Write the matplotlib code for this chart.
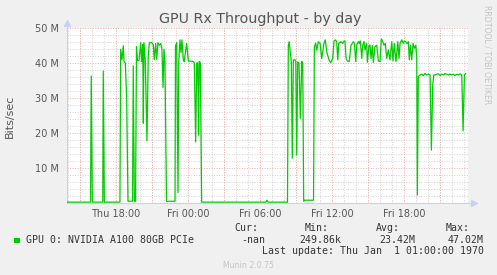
import matplotlib
matplotlib.use("Agg")
import matplotlib.pyplot as plt
from matplotlib.ticker import MultipleLocator, FixedLocator

# hours since Thu 00:00, Rx throughput in Mbit/s
hours = [13.92, 15.88, 15.94, 16.03, 16.90, 16.94, 17.03, 18.33, 18.39, 18.50,
         18.61, 18.67, 18.78, 18.89, 19.00, 19.38, 19.44, 19.53, 19.63, 19.71,
         19.79, 19.92, 20.06, 20.14, 20.23, 20.28, 20.33, 20.44, 20.58, 20.69,
         20.78, 20.98, 21.11, 21.19, 21.31, 21.39, 21.50, 21.61, 21.73, 21.83,
         21.92, 22.00, 22.08, 22.21, 22.92, 22.96, 23.06, 23.17, 23.23, 23.33,
         23.42, 23.50, 23.61, 23.69, 23.89, 24.03, 24.44, 24.53, 24.64, 24.73,
         24.81, 24.88, 24.94, 25.03, 25.14, 30.50, 30.58, 30.67, 32.29, 32.36,
         32.44, 32.50, 32.61, 32.69, 32.78, 32.92, 32.98, 33.06, 33.14, 33.25,
         33.36, 33.48, 33.56, 33.64, 33.71, 34.46, 34.53, 34.64, 34.73, 34.86,
         35.00, 35.14, 35.33, 35.44, 35.56, 35.75, 35.89, 36.06, 36.17, 36.28,
         36.39, 36.48, 36.56, 36.73, 36.89, 37.00, 37.08, 37.17, 37.28, 37.44,
         37.58, 37.69, 37.78, 37.86, 37.98, 38.06, 38.19, 38.28, 38.36, 38.48,
         38.56, 38.67, 38.75, 38.89, 38.94, 39.08, 39.17, 39.25, 39.36, 39.44,
         39.58, 39.73, 39.86, 40.00, 40.11, 40.23, 40.33, 40.44, 40.56, 40.69,
         40.83, 40.98, 41.08, 41.19, 41.33, 41.48, 41.58, 41.67, 41.81, 41.94,
         42.03, 42.14, 42.25, 42.36, 42.44, 42.53, 42.64, 42.75, 42.86, 42.98,
         43.06, 43.11, 43.19, 43.33, 43.48, 43.61, 43.75, 43.89, 44.03, 44.17,
         44.28, 44.39, 44.48, 44.58, 44.73, 44.86, 45.00, 45.14, 45.28, 45.42,
         45.56, 45.69, 45.83, 45.98, 46.11, 46.25, 46.39, 46.53, 46.67, 46.81,
         46.92, 47.03, 47.14]
mbits = [0.25, 0.25, 36.3, 0.25, 0.25, 37.7, 0.25, 0.25, 43.9, 41.0,
         44.9, 40.4, 40.0, 30.0, 0.5, 0.5, 39.2, 0.5, 0.5, 44.7,
         40.7, 40.7, 45.8, 40.4, 45.3, 22.8, 45.8, 40.8, 17.8, 42.0,
         45.8, 45.8, 45.3, 41.0, 45.6, 41.0, 45.8, 45.1, 45.6, 43.9,
         33.0, 43.9, 40.5, 0.5, 0.5, 44.9, 45.8, 3.0, 40.4, 46.6,
         43.0, 46.6, 40.9, 40.4, 45.6, 40.6, 40.4, 40.0, 17.5, 40.0,
         40.0, 19.4, 40.4, 40.0, 0.25, 0.25, 0.8, 0.25, 0.25, 45.1,
         46.1, 43.6, 40.5, 12.8, 40.9, 40.9, 40.5, 13.7, 40.3, 40.0,
         24.2, 40.5, 40.0, 0.5, 0.8, 0.8, 44.6, 45.7, 43.6, 46.1,
         45.6, 41.3, 45.6, 46.6, 43.2, 40.9, 40.1, 41.3, 46.3, 46.6,
         46.1, 40.9, 45.6, 46.1, 45.6, 46.3, 46.3, 41.3, 40.6, 40.4,
         45.1, 45.6, 46.1, 45.6, 40.4, 45.1, 46.1, 45.6, 46.3, 41.3,
         45.1, 46.1, 43.7, 45.6, 40.2, 45.0, 45.1, 41.3, 45.0, 40.2,
         44.7, 45.1, 40.6, 40.4, 46.9, 46.1, 45.1, 45.6, 41.3, 43.7,
         40.9, 46.1, 40.6, 45.6, 40.4, 46.1, 41.3, 45.6, 46.6, 45.6,
         46.3, 46.1, 45.6, 46.1, 40.9, 45.1, 40.9, 45.6, 44.2, 45.1,
         41.3, 2.3, 36.1, 36.6, 36.8, 36.4, 37.0, 36.6, 36.8, 36.6,
         15.1, 33.7, 36.6, 36.6, 36.8, 36.9, 36.4, 36.8, 36.6, 37.0,
         36.8, 36.6, 36.8, 36.6, 36.8, 36.4, 36.8, 36.6, 36.9, 36.6,
         20.6, 36.6, 37.0]

tick_hours = [18, 24, 30, 36, 42]
tick_labels = ["Thu 18:00", "Fri 00:00", "Fri 06:00", "Fri 12:00", "Fri 18:00"]
y_ticks = [10, 20, 30, 40, 50]
y_labels = ["10 M", "20 M", "30 M", "40 M", "50 M"]

series_name = "GPU 0: NVIDIA A100 80GB PCIe"
cur, vmin, avg, vmax = "-nan", "249.86k", "23.42M", "47.02M"

W, H = 497, 275
fig = plt.figure(figsize=(W / 100, H / 100), dpi=100, facecolor="#f0f0f0")
ax = fig.add_axes([67 / W, 72 / H, 401 / W, 175 / H])
ax.set_facecolor("white")

ax.set_xlim(13.92, 47.33)
ax.set_ylim(0, 50)

# grid: gray minor, red major
dots = (0, (1, 1.6))
ax.xaxis.set_minor_locator(MultipleLocator(1))
ax.xaxis.set_major_locator(FixedLocator(tick_hours))
ax.set_xticklabels(tick_labels)
ax.yaxis.set_minor_locator(MultipleLocator(2))
ax.set_yticks(y_ticks)
ax.set_yticklabels(y_labels)
ax.grid(which="minor", color="#d2d2d2", linestyle=dots, linewidth=0.7)
for h in range(15, 48, 3):
    ax.axvline(h, color="#eeaaaa", linestyle=dots, linewidth=0.7, zorder=1)
for v in y_ticks:
    ax.axhline(v, color="#eeaaaa", linestyle=dots, linewidth=0.7, zorder=1)
ax.set_axisbelow(True)

ax.tick_params(which="both", length=0, labelsize=7, labelcolor="#555555")
ax.tick_params(axis="x", pad=4)
ax.tick_params(axis="y", pad=6)
for s in ax.spines.values():
    s.set_visible(False)

# axes with arrows
ax.plot([0, 0], [0, 1.02], transform=ax.transAxes, color="#c8d0f4", lw=0.8, clip_on=False)
ax.plot([0, 1.01], [0, 0], transform=ax.transAxes, color="#c8d0f4", lw=0.8, clip_on=False)
ax.plot(0, 1.03, marker="^", ms=4, color="#c8d0f4", transform=ax.transAxes, clip_on=False)
ax.plot(1.015, 0, marker=">", ms=4, color="#c8d0f4", transform=ax.transAxes, clip_on=False)

ax.plot(hours, mbits, color="#00cc00", linewidth=0.9, zorder=3)

def px(x, y):
    return x / W, 1 - y / H

fig.text(*px(260, 19), "GPU Rx Throughput - by day", ha="center", va="center",
         fontsize=10.3, color="#555555")
fig.text(*px(10, 116), "Bits/sec", rotation=90, ha="center", va="center",
         fontsize=8, color="#555555")
fig.text(*px(487, 5), "RRDTOOL / TOBI OETIKER", rotation=270, ha="center", va="top",
         fontsize=5.6, color="#c4c4c4")

mono = dict(family="DejaVu Sans Mono", fontsize=7.1, color="#333333", va="center")
for x, lab in [(258, "Cur:"), (328.5, "Min:"), (399.5, "Avg:"), (470, "Max:")]:
    fig.text(*px(x, 228), lab, ha="right", **mono)
fig.patches.append(plt.Rectangle(px(14, 243), 5.5 / W, 5.5 / H, transform=fig.transFigure,
                                 facecolor="#00cc00", edgecolor="none"))
fig.text(*px(26.5, 240), series_name, ha="left", **mono)
for x, val in [(265, cur), (341.5, vmin), (415, avg), (483.5, vmax)]:
    fig.text(*px(x, 240), val, ha="right", **mono)
fig.text(*px(483.5, 251), "Last update: Thu Jan  1 01:00:00 1970", ha="right", **mono)
fig.text(*px(248, 265), "Munin 2.0.75", ha="center", va="center", fontsize=5.6, color="#c4c4c4")

fig.savefig("out.png", dpi=100, facecolor=fig.get_facecolor())
